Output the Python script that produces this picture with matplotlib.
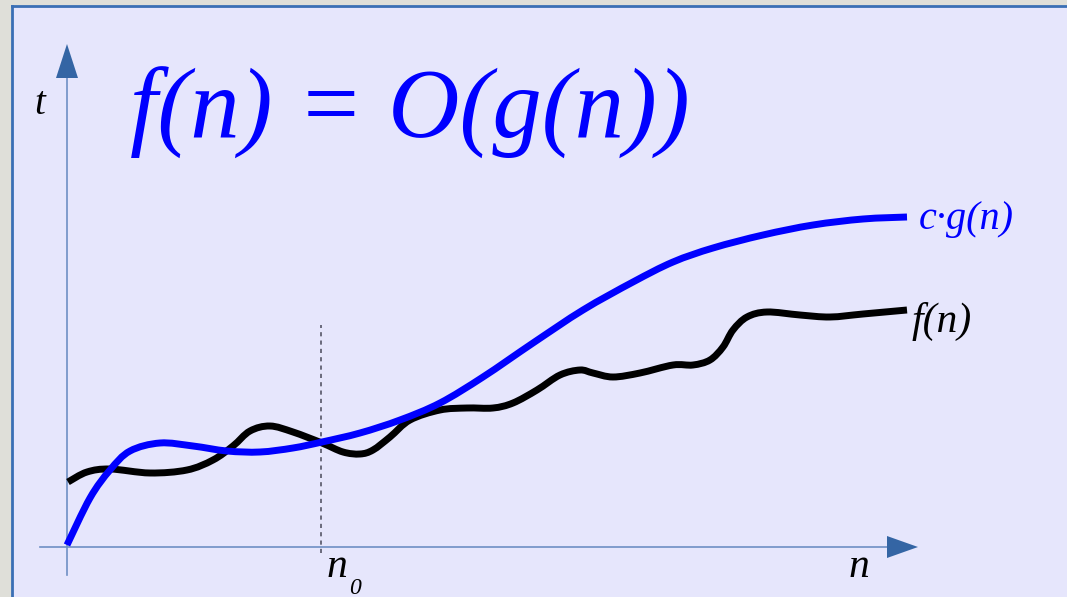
import matplotlib.pyplot as plt
from matplotlib.patches import Rectangle, Polygon, PathPatch
from matplotlib.path import Path

# curve samples (x = distance from the t axis, y = height above the n axis)
cg_x = [0, 23, 43, 63, 93, 126, 160, 193, 226, 255, 293, 333, 373, 416, 466,
        516, 566, 606, 646, 696, 746, 796, 840]
cg_y = [2, 49, 77, 96, 104, 101, 96, 95, 99, 105, 114, 127, 144, 170, 204,
        237, 265, 285, 299, 312, 322, 328, 330]

f_x = [1, 20, 43, 83, 120, 146, 166, 183, 203, 226, 255, 276, 293, 306, 323,
       343, 373, 400, 426, 446, 470, 493, 513, 526, 546, 573, 606, 626, 643,
       656, 666, 680, 700, 733, 763, 796, 840]
f_y = [65, 75, 78, 74, 77, 87, 101, 116, 121, 115, 104, 95, 93, 97, 110,
       127, 137, 139, 139, 144, 157, 172, 177, 174, 170, 174, 182, 182, 187,
       200, 217, 230, 235, 232, 230, 233, 237]

n0 = 254
x_end, y_end = 851, 503

BG = '#dfdfd9'
PANEL = '#e6e6fc'
AXC = '#6e8fc4'
ARROW = '#3465a4'
BLUE = '#0000ff'
serif = ['Liberation Serif', 'DejaVu Serif']


def smooth_path(xs, ys):
    # catmull-rom through the read points, drawn as cubic bezier segments
    pts = list(zip(xs, ys))
    verts = [pts[0]]
    codes = [Path.MOVETO]
    for i in range(len(pts) - 1):
        p0 = pts[i - 1] if i > 0 else pts[i]
        p1 = pts[i]
        p2 = pts[i + 1]
        p3 = pts[i + 2] if i + 2 < len(pts) else pts[i + 1]
        c1 = (p1[0] + (p2[0] - p0[0]) / 6, p1[1] + (p2[1] - p0[1]) / 6)
        c2 = (p2[0] - (p3[0] - p1[0]) / 6, p2[1] - (p3[1] - p1[1]) / 6)
        verts += [c1, c2, p2]
        codes += [Path.CURVE4] * 3
    return Path(verts, codes)


fig = plt.figure(figsize=(10.67, 5.97), dpi=100, facecolor=BG)
ax = fig.add_axes([0, 0, 1, 1])
ax.set_xlim(-67, 1000)
ax.set_ylim(-50, 547)
ax.axis('off')

# slide panel
ax.add_patch(Rectangle((-55, -60), 1200, 601, facecolor=PANEL, edgecolor='none', zorder=0))
ax.plot([-55, -55], [-60, 541], color='#3a6fb5', lw=2, zorder=1)
ax.plot([-55, 1100], [541, 541], color='#3a6fb5', lw=2, zorder=1)

# axes with arrow heads
ax.plot([0, 0], [-28, 470], color=AXC, lw=1.2, zorder=2)
ax.plot([-27, 822], [0, 0], color=AXC, lw=1.2, zorder=2)
ax.add_patch(Polygon([[-11, 469], [11, 469], [0, y_end]], closed=True,
                     facecolor=ARROW, edgecolor='none', zorder=3))
ax.add_patch(Polygon([[820, 11], [820, -11], [x_end, 0]], closed=True,
                     facecolor=ARROW, edgecolor='none', zorder=3))

# n0 marker
ax.plot([n0, n0], [-6, 222], color='#555566', lw=1.2, ls=(0, (2.5, 2.5)), zorder=2)

ax.add_patch(PathPatch(smooth_path(f_x, f_y), facecolor='none', edgecolor='black',
                       lw=5, capstyle='butt', joinstyle='round', zorder=4))
ax.add_patch(PathPatch(smooth_path(cg_x, cg_y), facecolor='none', edgecolor=BLUE,
                       lw=5, capstyle='butt', joinstyle='round', zorder=5))

ax.text(63, 434, 'f(n) = O(g(n))', color=BLUE, fontsize=71, family=serif,
        style='italic', ha='left', va='center')
ax.text(-27, 442, 't', color='black', fontsize=28, family=serif, style='italic',
        ha='center', va='center')
ax.text(852, 327, 'c·g(n)', color=BLUE, fontsize=29, family=serif, style='italic',
        ha='left', va='center')
ax.text(845, 226, 'f(n)', color='black', fontsize=30, family=serif, style='italic',
        ha='left', va='center')
ax.text(260, -20, 'n', color='black', fontsize=30, family=serif, style='italic',
        ha='left', va='center')
ax.text(282, -41, '0', color='black', fontsize=17, family=serif, style='italic',
        ha='left', va='center')
ax.text(792, -20, 'n', color='black', fontsize=30, family=serif, style='italic',
        ha='center', va='center')

fig.savefig('out.png', dpi=100, facecolor=BG)
